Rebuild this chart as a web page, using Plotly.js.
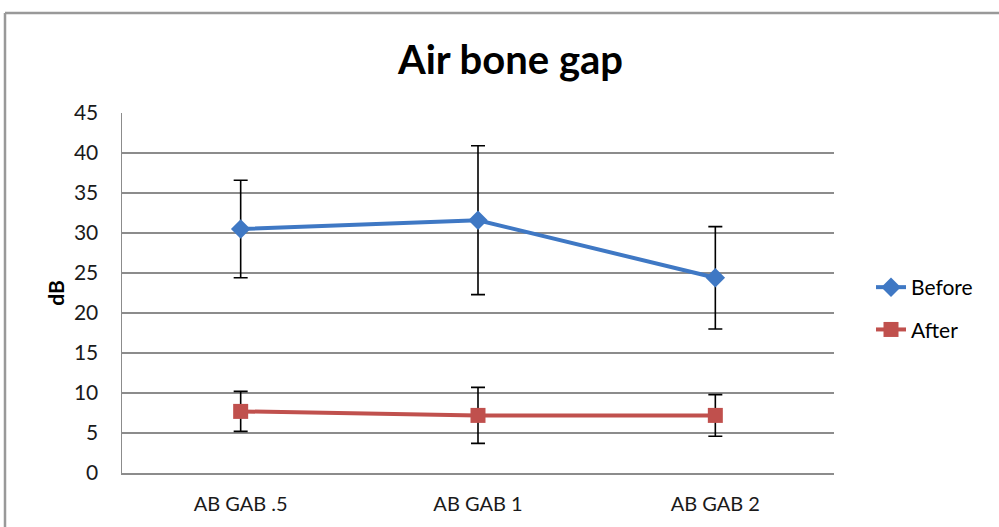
<!DOCTYPE html>
<html>
<head>
<meta charset="utf-8">
<script src="https://cdn.plot.ly/plotly-3.0.1.min.js"></script>
<style>html,body{margin:0;padding:0;background:#fff;}#chart{width:999px;height:527px;}</style>
</head>
<body>
<div id="chart"></div>
<script>
const categories = ["AB GAB .5", "AB GAB 1", "AB GAB 2"];
const beforeValues = [30.5, 31.6, 24.4];
const beforeErrors = [6.1, 9.3, 6.4];
const afterValues = [7.7, 7.2, 7.2];
const afterErrors = [2.5, 3.5, 2.6];
const yTicks = [0, 5, 10, 15, 20, 25, 30, 35, 40, 45];

const FONT = "Lato, 'Open Sans', sans-serif";
const L = 122, R = 165, T = 113, B = 54, W = 999, H = 527;
const pw = W - L - R, ph = H - T - B;
const px = v => (v - L) / pw;
const py = v => 1 - (v - T) / ph;

const traces = [
  {
    x: categories, y: beforeValues, name: "Before", type: "scatter", mode: "lines+markers",
    legendgroup: "a",
    line: {color: "#3F78C4", width: 4},
    marker: {symbol: "diamond", size: 15, color: "#3F78C4"},
    error_y: {type: "data", array: beforeErrors, visible: true, color: "#000", thickness: 1.6, width: 7}
  },
  {
    x: categories, y: afterValues, name: "After", type: "scatter", mode: "lines+markers",
    legendgroup: "b",
    line: {color: "#C0504D", width: 4},
    marker: {symbol: "square", size: 15, color: "#C0504D"},
    error_y: {type: "data", array: afterErrors, visible: true, color: "#000", thickness: 1.6, width: 7}
  }
];

const layout = {
  width: W, height: H,
  margin: {l: L, r: R, t: T, b: B},
  paper_bgcolor: "#fff", plot_bgcolor: "#fff",
  font: {family: FONT, color: "#1a1a1a", size: 20},
  title: {text: "<b>Air bone gap</b>", font: {family: FONT, size: 40, color: "#000"},
          x: 0.511, xref: "container", xanchor: "center", y: 1 - 60 / H, yref: "container", yanchor: "middle"},
  xaxis: {
    type: "category", range: [-0.5, 2.5], showgrid: false, zeroline: false,
    showline: true, linecolor: "#8c8c8c", linewidth: 1.5, ticks: "",
    tickfont: {family: FONT, size: 20, color: "#1a1a1a"}, ticklabelstandoff: 12
  },
  yaxis: {
    range: [0, 45], tickvals: yTicks, ticktext: yTicks.map(String),
    showgrid: true, gridcolor: "#8c8c8c", gridwidth: 1.5, zeroline: false,
    showline: true, linecolor: "#8c8c8c", linewidth: 1.5, ticks: "",
    tickfont: {family: FONT, size: 21, color: "#1a1a1a"}, ticklabelstandoff: 18,
    title: {text: "<b>dB</b>", font: {family: FONT, size: 21, color: "#000"}, standoff: 3}
  },
  showlegend: true,
  legend: {
    x: px(871), y: py(267), xanchor: "left", yanchor: "top",
    font: {family: FONT, size: 21, color: "#000"},
    tracegroupgap: 12, bgcolor: "rgba(0,0,0,0)", itemwidth: 30
  },
  shapes: [
    {type: "line", xref: "paper", yref: "paper", x0: px(5), x1: px(1005), y0: py(13), y1: py(13),
     line: {color: "#999", width: 2.5}},
    {type: "line", xref: "paper", yref: "paper", x0: px(5), x1: px(5), y0: py(13), y1: py(540),
     line: {color: "#999", width: 2.5}}
  ]
};

Plotly.newPlot("chart", traces, layout, {displayModeBar: false, staticPlot: true});
</script>
</body>
</html>
